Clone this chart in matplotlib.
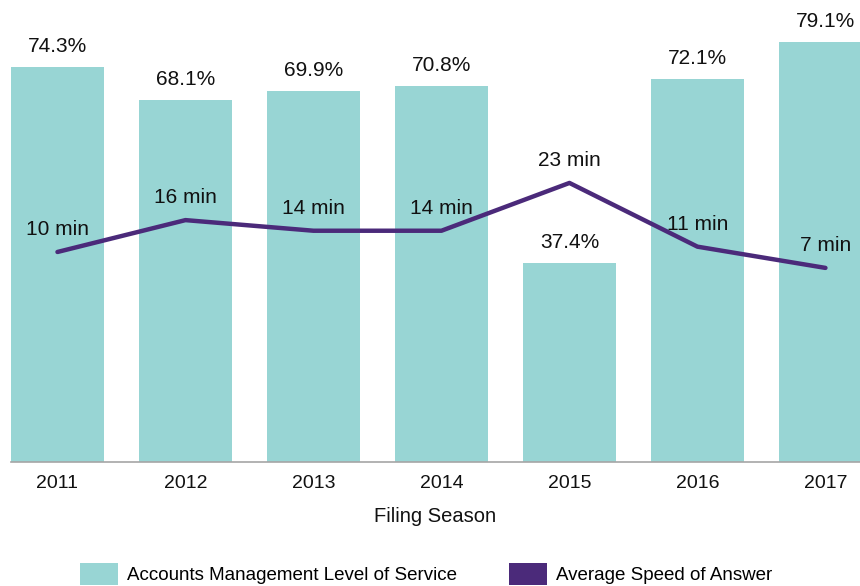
import matplotlib
matplotlib.use("Agg")
import matplotlib.pyplot as plt
from matplotlib.patches import Patch
import numpy as np

plt.rcParams['font.family'] = ['Liberation Sans', 'DejaVu Sans']

years = ['2011', '2012', '2013', '2014', '2015', '2016', '2017']
level_of_service = [74.3, 68.1, 69.9, 70.8, 37.4, 72.1, 79.1]
speed_of_answer = [10, 16, 14, 14, 23, 11, 7]

teal = '#98D5D4'
purple = '#4B2A7A'

fig = plt.figure(figsize=(8.6, 5.86), dpi=100)
ax = fig.add_axes([11/860, 124/586, 849/860, 462/586])
x = np.arange(len(years))

ax.bar(x, level_of_service, width=0.727, color=teal)
for xi, v in zip(x, level_of_service):
    ax.annotate(f"{v}%", (xi, v), xytext=(0, 11), textcoords='offset points',
                ha='center', va='baseline', fontsize=15, color='#111111')

ax.set_xlim(-0.363, 6.27)
ax.set_ylim(0, 87.0)
ax.set_xticks(x)
ax.set_xticklabels(years, fontsize=14, color='#111111')
ax.tick_params(axis='x', length=0, pad=9)
ax.set_yticks([])
for s in ['top', 'left', 'right']:
    ax.spines[s].set_visible(False)
ax.spines['bottom'].set_color('#A6A6A6')
ax.spines['bottom'].set_linewidth(1.2)
ax.set_xlabel("Filing Season", fontsize=14.5, color='#111111', labelpad=11)

ax2 = ax.twinx()
ax2.plot(x, speed_of_answer, color=purple, linewidth=3.2, solid_capstyle='round')
for xi, v in zip(x, speed_of_answer):
    ax2.annotate(f"{v} min", (xi, v), xytext=(0, 12), textcoords='offset points',
                 ha='center', va='baseline', fontsize=15, color='#111111')
ax2.set_ylim(-29.55, 57.45)
ax2.set_yticks([])
for s in ax2.spines.values():
    s.set_visible(False)

handles = [Patch(facecolor=teal, edgecolor='none'), Patch(facecolor=purple, edgecolor='none')]
fig.legend(handles, ['Accounts Management Level of Service', 'Average Speed of Answer'],
           loc='upper left', bbox_to_anchor=(80/860, 1 - 563/586), ncol=2, frameon=False,
           fontsize=13.5, handlelength=2.03, handleheight=1.45, handletextpad=0.48,
           columnspacing=2.77, borderpad=0, borderaxespad=0)

fig.savefig('out.png', dpi=100)
